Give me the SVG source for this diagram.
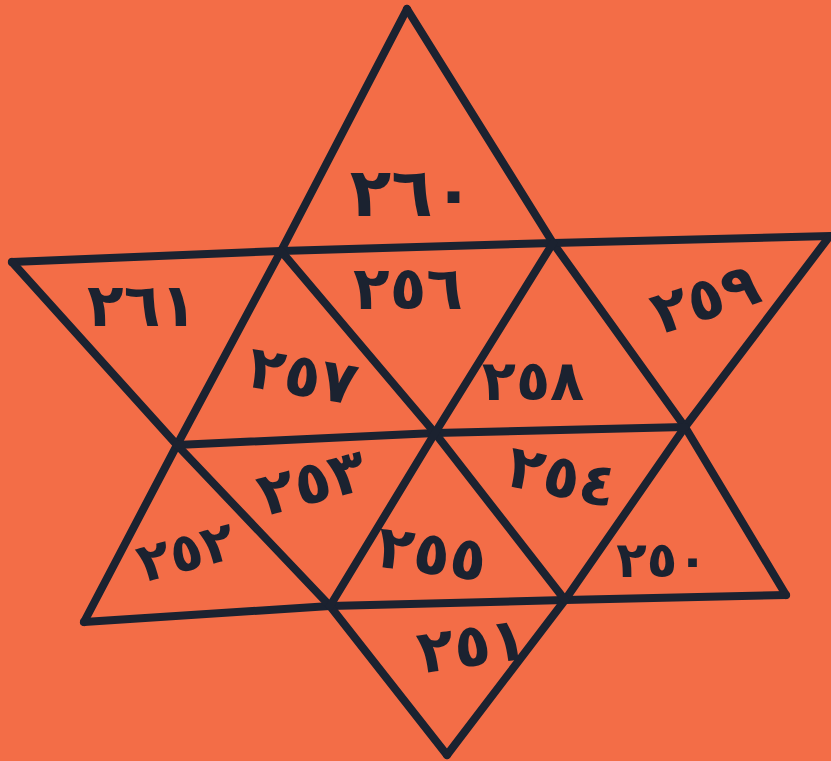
<svg xmlns="http://www.w3.org/2000/svg" width="831" height="761" viewBox="0 0 831 761">
<style>
.ln{fill:none;stroke:#1b2230;stroke-width:8;stroke-linejoin:round;stroke-linecap:round}
.lb{font-family:"DejaVu Sans","Noto Sans",sans-serif;font-weight:bold;font-size:60px;fill:#1b2230;text-anchor:middle;dominant-baseline:central}
</style>
<rect width="831" height="761" fill="#f36d47"/>
<g id="connectors">
<polyline class="ln" points="407,9 281,251 177,445 84,622"/>
<polyline class="ln" points="407,9 553,243 685,427 786,595"/>
<polyline class="ln" points="84,622 330,606 565,600 786,595"/>
<polyline class="ln" points="12,262 281,251 553,243 831,236"/>
<polyline class="ln" points="12,262 177,445 330,606 447,755"/>
<polyline class="ln" points="829,237 685,427 565,600 447,755"/>
<polyline class="ln" points="177,445 435,433 685,427"/>
<polyline class="ln" points="281,251 435,433 565,600"/>
<polyline class="ln" points="553,243 435,433 330,606"/>
</g>
<g id="n260"><text class="lb" x="412" y="192" style="font-size:68px">٢٦٠</text></g>
<g id="n261"><text class="lb" x="142" y="305">٢٦١</text></g>
<g id="n256"><text class="lb" x="408" y="288">٢٥٦</text></g>
<g id="n259"><text class="lb" x="705" y="298" transform="rotate(-18 705 298)">٢٥٩</text></g>
<g id="n257"><text class="lb" x="303" y="375" transform="rotate(10 303 375)">٢٥٧</text></g>
<g id="n258"><text class="lb" x="533" y="380" style="font-size:56px">٢٥٨</text></g>
<g id="n253"><text class="lb" x="312" y="482" transform="rotate(-15 312 482)">٢٥٣</text></g>
<g id="n254"><text class="lb" x="562" y="476" transform="rotate(12 562 476)">٢٥٤</text></g>
<g id="n252"><text class="lb" x="186" y="552" transform="rotate(-15 186 552)" style="font-size:54px">٢٥٢</text></g>
<g id="n250"><text class="lb" x="662" y="560" style="font-size:50px">٢٥٠</text></g>
<g id="n255"><text class="lb" x="432" y="553" transform="rotate(8 432 553)">٢٥٥</text></g>
<g id="n251"><text class="lb" x="472" y="645" transform="rotate(-8 472 645)">٢٥١</text></g>
</svg>
